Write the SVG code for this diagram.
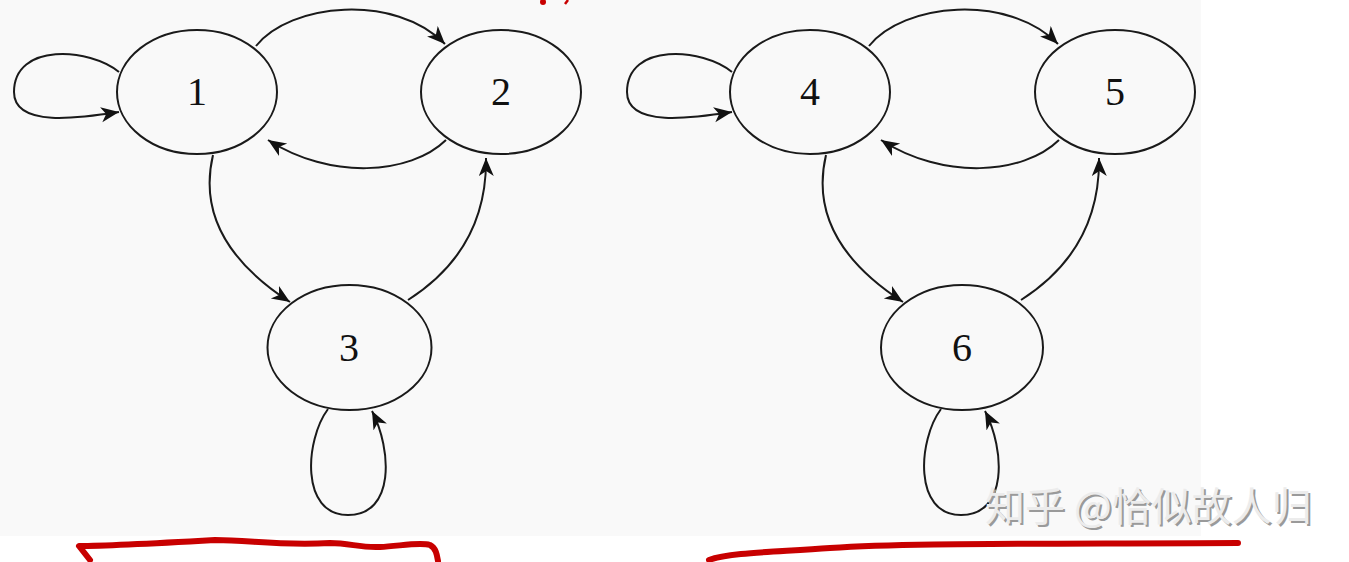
<svg xmlns="http://www.w3.org/2000/svg" width="1349" height="562" viewBox="0 0 1349 562">
<style>
.node ellipse{fill:none;stroke:#1a1a1a;stroke-width:2}
.node text{font-family:"Liberation Serif",serif;font-size:40px;fill:#111;text-anchor:middle}
.edge{fill:none;stroke:#1a1a1a;stroke-width:2;marker-end:url(#arr)}
.red{fill:none;stroke:#c80000;stroke-width:6;stroke-linecap:round;stroke-linejoin:round}
.wm{font-family:"Noto Sans CJK SC","Liberation Sans",sans-serif;font-size:40px}
</style>
<defs>
<marker id="arr" markerUnits="userSpaceOnUse" markerWidth="20" markerHeight="16" refX="18" refY="7.5" orient="auto">
<path d="M0,0 L18,7.5 L0,15 L5,7.5 z" fill="#111"/>
</marker>
</defs>
<rect x="0" y="0" width="1349" height="562" fill="#ffffff"/>
<rect x="0" y="0" width="1201" height="536" fill="#f9f9f9"/>
<g id="connectors">
<path class="edge" d="M119,72 C90,48 14,42 14,92 C14,128 80,118 119,112"/>
<path class="edge" d="M256,46 C290,3 395,-7 445,44"/>
<path class="edge" d="M446,140 C410,175 330,180 268,140"/>
<path class="edge" d="M213,155 C200,210 225,260 290,302"/>
<path class="edge" d="M408,300 C455,270 487,225 486,158"/>
<path class="edge" d="M328,409 C305,440 300,515 348,515 C395,515 392,450 372,411"/>
<path class="edge" d="M732,72 C703,48 627,42 627,92 C627,128 693,118 732,112"/>
<path class="edge" d="M869,46 C903,3 1008,-7 1058,44"/>
<path class="edge" d="M1059,140 C1023,175 943,180 881,140"/>
<path class="edge" d="M826,155 C813,210 838,260 903,302"/>
<path class="edge" d="M1021,300 C1068,270 1100,225 1099,158"/>
<path class="edge" d="M941,409 C918,440 913,515 961,515 C1008,515 1005,450 985,411"/>
</g>
<g id="n1" class="node"><ellipse cx="197" cy="92" rx="80" ry="62"/><text x="197" y="105">1</text></g>
<g id="n2" class="node"><ellipse cx="501" cy="92" rx="80" ry="62"/><text x="501" y="105">2</text></g>
<g id="n3" class="node"><ellipse cx="349.5" cy="347.5" rx="82" ry="62.5"/><text x="349" y="361">3</text></g>
<g id="n4" class="node"><ellipse cx="810" cy="92" rx="80" ry="62"/><text x="810" y="105">4</text></g>
<g id="n5" class="node"><ellipse cx="1115" cy="92" rx="80" ry="62"/><text x="1115" y="105">5</text></g>
<g id="n6" class="node"><ellipse cx="962" cy="347.5" rx="81" ry="62.5"/><text x="962" y="361">6</text></g>
<g id="marks">
<circle cx="543" cy="2" r="3" fill="#c80000"/>
<path d="M565,4 L568,0" stroke="#c80000" stroke-width="2.5" fill="none"/>
<path class="red" d="M90,560 L79,546 C110,546 180,542 215,540 C250,540 280,546 330,543 C350,543 360,548 380,547 C400,546 420,542 430,545 C436,548 437,555 438,561"/>
<path class="red" d="M709,560 C730,552 780,552 830,548 C900,543 1000,544 1238,543"/>
</g>
<g id="watermark">
<text class="wm" x="987" y="523" fill="#9a9a9a">知乎 @恰似故人归</text>
<text class="wm" x="985" y="521" fill="#ececec">知乎 @恰似故人归</text>
</g>
</svg>
